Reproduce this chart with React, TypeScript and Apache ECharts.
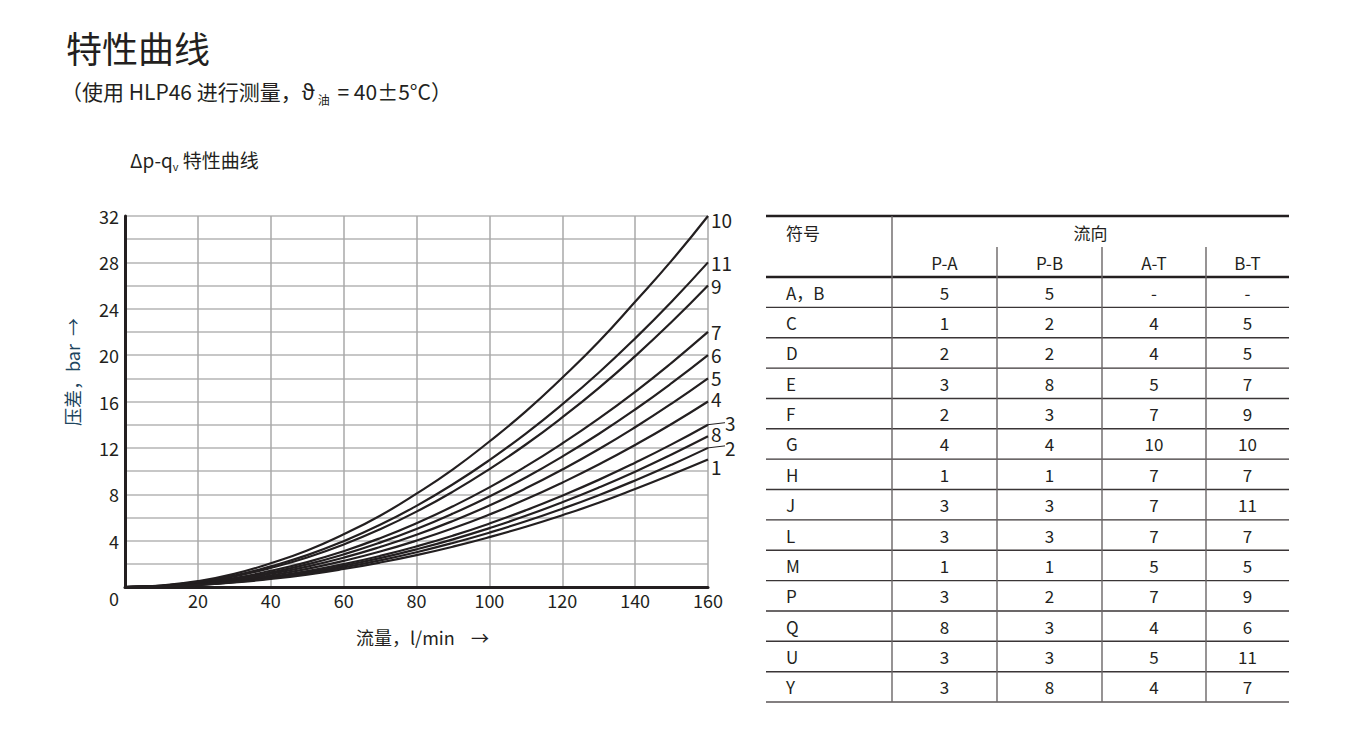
import React, { useEffect, useRef } from "react";
import * as echarts from "echarts";

// ---------- data ----------
const flow = [0, 10, 20, 30, 40, 50, 60, 70, 80, 90, 100, 110, 120, 130, 140, 150, 160];
const curve10 = [0, 0.13, 0.5, 1.13, 2.05, 3.15, 4.55, 6.15, 8.05, 10.15, 12.55, 15.15, 18.05, 21.15, 24.6, 28.15, 32];
const curve11 = [0, 0.11, 0.44, 0.98, 1.78, 2.75, 3.95, 5.36, 7.0, 8.86, 10.94, 13.23, 15.75, 18.48, 21.44, 24.61, 28];
const curve9 = [0, 0.1, 0.41, 0.91, 1.65, 2.55, 3.66, 4.98, 6.5, 8.23, 10.16, 12.29, 14.63, 17.16, 19.91, 22.85, 26];
const curve7 = [0, 0.09, 0.34, 0.77, 1.4, 2.15, 3.09, 4.21, 5.5, 6.96, 8.59, 10.4, 12.38, 14.52, 16.84, 19.34, 22];
const curve6 = [0, 0.08, 0.31, 0.7, 1.26, 1.95, 2.81, 3.83, 5.0, 6.33, 7.81, 9.45, 11.25, 13.2, 15.31, 17.58, 20];
const curve5 = [0, 0.07, 0.28, 0.63, 1.14, 1.76, 2.53, 3.45, 4.5, 5.7, 7.03, 8.51, 10.13, 11.88, 13.78, 15.82, 18];
const curve4 = [0, 0.06, 0.25, 0.56, 1.0, 1.56, 2.25, 3.06, 4.0, 5.06, 6.25, 7.56, 9.0, 10.56, 12.25, 14.06, 16];
const curve3 = [0, 0.05, 0.22, 0.49, 0.88, 1.37, 1.97, 2.68, 3.5, 4.43, 5.47, 6.62, 7.88, 9.24, 10.72, 12.3, 14];
const curve8 = [0, 0.05, 0.2, 0.46, 0.81, 1.27, 1.83, 2.49, 3.25, 4.11, 5.08, 6.14, 7.31, 8.58, 9.95, 11.43, 13];
const curve2 = [0, 0.05, 0.19, 0.42, 0.75, 1.17, 1.69, 2.3, 3.0, 3.8, 4.69, 5.67, 6.75, 7.92, 9.19, 10.55, 12];
const curve1 = [0, 0.04, 0.17, 0.39, 0.69, 1.07, 1.55, 2.11, 2.75, 3.48, 4.3, 5.2, 6.19, 7.26, 8.45, 9.7, 11];

const curveNames = ["10", "11", "9", "7", "6", "5", "4", "3", "8", "2", "1"];
const curveValues = [curve10, curve11, curve9, curve7, curve6, curve5, curve4, curve3, curve8, curve2, curve1];
const leaderCurves = ["3", "2"];

const yTicks = [0, 4, 8, 12, 16, 20, 24, 28, 32];

// table
const tableHeadSymbol = "符号";
const tableHeadFlow = "流向";
const directions = ["P-A", "P-B", "A-T", "B-T"];
const symbols = ["A，B", "C", "D", "E", "F", "G", "H", "J", "L", "M", "P", "Q", "U", "Y"];
const colPA = ["5", "1", "2", "3", "2", "4", "1", "3", "3", "1", "3", "8", "3", "3"];
const colPB = ["5", "2", "2", "8", "3", "4", "1", "3", "3", "1", "2", "3", "3", "8"];
const colAT = ["-", "4", "4", "5", "7", "10", "7", "7", "7", "5", "7", "4", "5", "4"];
const colBT = ["-", "5", "5", "7", "9", "10", "7", "11", "7", "5", "9", "6", "11", "7"];

const FONT = '"Noto Sans CJK SC", "Noto Sans", "DejaVu Sans", sans-serif';
const INK = "#231f20";

const labelOffsets: Record<string, [number, number]> = {
  "10": [0, 3],
  "11": [0, 0],
  "9": [0, 0],
  "7": [0, 0],
  "6": [0, -1],
  "5": [0, -1],
  "4": [0, -3],
  "3": [14, -2],
  "8": [0, -3],
  "2": [14, 0],
  "1": [0, 7],
};

export default function App() {
  const ref = useRef<HTMLDivElement>(null);

  useEffect(() => {
    document.body.style.margin = "0";
    const chart = echarts.init(ref.current!, null, { renderer: "svg" });

    const series = curveNames.map((name, idx) => ({
      name,
      type: "line",
      smooth: true,
      showSymbol: false,
      symbol: "none",
      lineStyle: { color: INK, width: 2.2 },
      data: flow.map((q, i) => [q, curveValues[idx][i]]),
      endLabel: {
        show: true,
        formatter: name,
        distance: 3,
        offset: labelOffsets[name],
        color: INK,
        fontSize: 19,
        lineHeight: 14,
        fontFamily: FONT,
      },
      z: 3,
    }));

    chart.setOption({
      animation: false,
      backgroundColor: "#ffffff",
      grid: { left: 125, right: 648, top: 216, bottom: 156, containLabel: false },
      xAxis: {
        type: "value",
        min: 0,
        max: 160,
        interval: 20,
        axisLine: { show: true, onZero: true, lineStyle: { color: INK, width: 3 } },
        axisTick: { show: false },
        axisLabel: {
          color: INK,
          fontSize: 18,
          fontFamily: FONT,
          margin: 4,
          formatter: (v: number) => (v === 0 ? "" : String(v)),
        },
        splitLine: { show: true, lineStyle: { color: "#a9a9a9", width: 1.5 } },
      },
      yAxis: {
        type: "value",
        min: 0,
        max: 32,
        interval: 2,
        axisLine: { show: true, lineStyle: { color: INK, width: 3 } },
        axisTick: { show: false },
        axisLabel: {
          color: INK,
          fontSize: 18,
          fontFamily: FONT,
          margin: 6,
          formatter: (v: number) => (v !== 0 && yTicks.includes(v) ? String(v) : ""),
        },
        splitLine: { show: true, lineStyle: { color: "#b4b4b4", width: 1.5 } },
      },
      series,
    });

    const graphics: any[] = [];

    // titles
    graphics.push({
      type: "text",
      x: 66,
      y: 47,
      style: { text: "特性曲线", font: `36px ${FONT}`, fill: INK, verticalAlign: "middle" },
    });
    graphics.push({
      type: "text",
      x: 61,
      y: 91,
      style: {
        text: "{a|（使用 HLP46 进行测量，ϑ}{s|油}{a| = 40±5°C）}",
        verticalAlign: "middle",
        rich: {
          a: { fontSize: 21, fontFamily: FONT, fill: INK, lineHeight: 28, verticalAlign: "middle" },
          s: { fontSize: 12, fontFamily: FONT, fill: INK, lineHeight: 28, verticalAlign: "bottom", padding: [0, 3, 0, 3] },
        },
      },
    });
    graphics.push({
      type: "text",
      x: 130,
      y: 159,
      style: {
        text: "{a|Δp-q}{s|v}{a| 特性曲线}",
        verticalAlign: "middle",
        rich: {
          a: { fontSize: 19, fontFamily: FONT, fill: INK, lineHeight: 24, verticalAlign: "middle" },
          s: { fontSize: 11, fontFamily: FONT, fill: INK, lineHeight: 22, verticalAlign: "bottom" },
        },
      },
    });

    // axis names
    graphics.push({
      type: "text",
      x: 72,
      y: 372,
      rotation: Math.PI / 2,
      style: {
        text: "压差，bar  →",
        font: `18px ${FONT}`,
        fill: "#1d4560",
        align: "center",
        verticalAlign: "middle",
      },
    });
    graphics.push({
      type: "text",
      x: 356,
      y: 637,
      style: { text: "流量，l/min    →", font: `18px ${FONT}`, fill: INK, verticalAlign: "middle" },
    });

    // origin label "0"
    const origin = chart.convertToPixel({ xAxisIndex: 0, yAxisIndex: 0 }, [0, 0]) as number[];
    graphics.push({
      type: "text",
      x: origin[0] - 6,
      y: origin[1] + 11,
      style: { text: "0", font: `18px ${FONT}`, fill: INK, align: "right", verticalAlign: "middle" },
    });

    // leader lines
    leaderCurves.forEach((name) => {
      const idx = curveNames.indexOf(name);
      const vals = curveValues[idx];
      const p = chart.convertToPixel({ xAxisIndex: 0, yAxisIndex: 0 }, [flow[flow.length - 1], vals[vals.length - 1]]) as number[];
      graphics.push({
        type: "line",
        shape: { x1: p[0], y1: p[1], x2: p[0] + 17, y2: p[1] - 2 },
        style: { stroke: INK, lineWidth: 1 },
      });
    });

    // table
    const colX = [766, 892, 997, 1102, 1206, 1289];
    const tTop = 216;
    const tSub = 247;
    const tHead = 277;
    const rowH = 30.36;
    const tBottom = tHead + rowH * symbols.length;
    const lineColor = "#3a3536";
    const vColor = "#6a6566";

    graphics.push({ type: "line", shape: { x1: colX[0], y1: tTop, x2: colX[5], y2: tTop }, style: { stroke: INK, lineWidth: 2.5 } });
    graphics.push({ type: "line", shape: { x1: colX[0], y1: tHead, x2: colX[5], y2: tHead }, style: { stroke: INK, lineWidth: 2.5 } });
    for (let i = 1; i <= symbols.length; i++) {
      const y = tHead + rowH * i;
      graphics.push({
        type: "line",
        shape: { x1: colX[0], y1: y, x2: colX[5], y2: y },
        style: { stroke: i === symbols.length ? "#5a5556" : lineColor, lineWidth: 1.4 },
      });
    }
    graphics.push({ type: "line", shape: { x1: colX[1], y1: tTop, x2: colX[1], y2: tBottom }, style: { stroke: vColor, lineWidth: 1.4 } });
    for (let c = 2; c <= 4; c++) {
      graphics.push({ type: "line", shape: { x1: colX[c], y1: tSub, x2: colX[c], y2: tBottom }, style: { stroke: vColor, lineWidth: 1.4 } });
    }

    const tFont = `17px ${FONT}`;
    graphics.push({ type: "text", x: 786, y: 232, style: { text: tableHeadSymbol, font: tFont, fill: INK, verticalAlign: "middle" } });
    graphics.push({
      type: "text",
      x: (colX[1] + colX[5]) / 2,
      y: 232,
      style: { text: tableHeadFlow, font: tFont, fill: INK, align: "center", verticalAlign: "middle" },
    });
    directions.forEach((d, i) => {
      graphics.push({
        type: "text",
        x: (colX[i + 1] + colX[i + 2]) / 2,
        y: 262,
        style: { text: d, font: tFont, fill: INK, align: "center", verticalAlign: "middle" },
      });
    });
    const cols = [colPA, colPB, colAT, colBT];
    symbols.forEach((s, r) => {
      const yc = tHead + rowH * r + rowH / 2;
      graphics.push({ type: "text", x: 786, y: yc, style: { text: s, font: tFont, fill: INK, verticalAlign: "middle" } });
      cols.forEach((col, c) => {
        graphics.push({
          type: "text",
          x: (colX[c + 1] + colX[c + 2]) / 2,
          y: yc,
          style: { text: col[r], font: tFont, fill: INK, align: "center", verticalAlign: "middle" },
        });
      });
    });

    chart.setOption({ graphic: graphics });

    return () => chart.dispose();
  }, []);

  return (
    <div
      ref={ref}
      style={{ position: "fixed", left: 0, top: 0, width: 1356, height: 743, background: "#fff" }}
    />
  );
}
